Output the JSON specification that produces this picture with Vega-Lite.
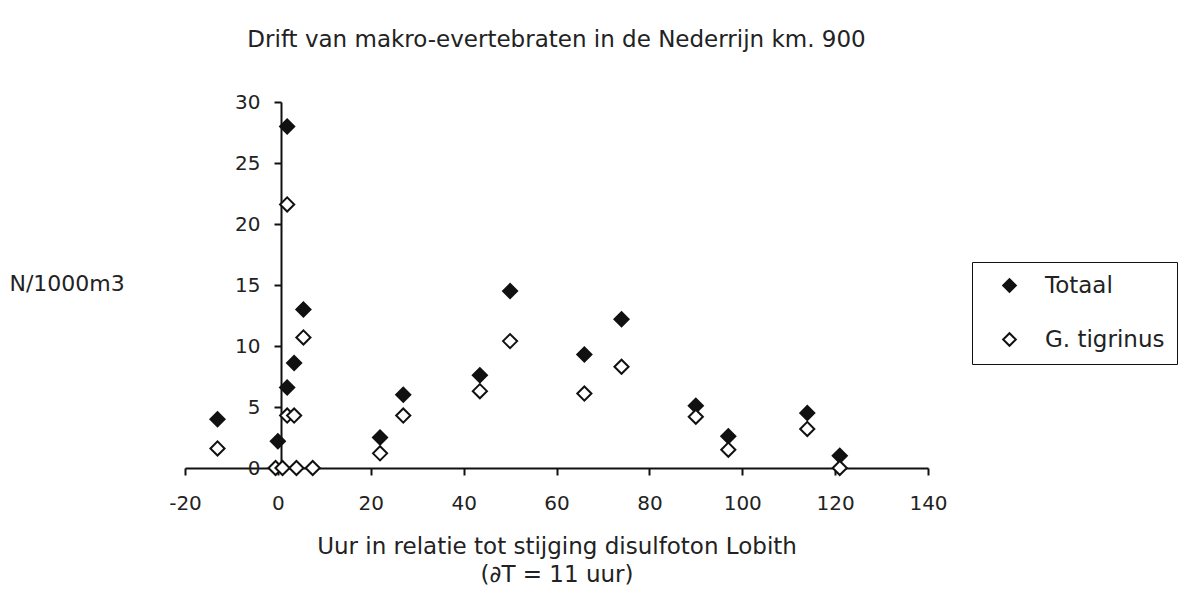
{
  "$schema": "https://vega.github.io/schema/vega-lite/v6.json",
  "autosize": "none",
  "width": 743,
  "height": 366,
  "padding": {"left": 185, "top": 102, "right": 264, "bottom": 129},
  "background": "white",
  "title": {
    "text": "Drift van makro-evertebraten in de Nederrijn km. 900",
    "font": "DejaVu Sans",
    "fontSize": 23,
    "fontWeight": "normal",
    "color": "#222",
    "anchor": "middle",
    "offset": 40
  },
  "data": {
    "values": [
      {"x": -13, "y": 4.0, "series": "Totaal"},
      {"x": -13, "y": 1.6, "series": "G. tigrinus"},
      {"x": 0, "y": 2.2, "series": "Totaal"},
      {"x": -0.5, "y": 0, "series": "G. tigrinus"},
      {"x": 1, "y": 0, "series": "G. tigrinus"},
      {"x": 4, "y": 0, "series": "G. tigrinus"},
      {"x": 7.5, "y": 0, "series": "G. tigrinus"},
      {"x": 2, "y": 28.0, "series": "Totaal"},
      {"x": 2, "y": 21.6, "series": "G. tigrinus"},
      {"x": 2, "y": 6.6, "series": "Totaal"},
      {"x": 2, "y": 4.3, "series": "G. tigrinus"},
      {"x": 3.5, "y": 8.6, "series": "Totaal"},
      {"x": 3.5, "y": 4.3, "series": "G. tigrinus"},
      {"x": 5.5, "y": 13.0, "series": "Totaal"},
      {"x": 5.5, "y": 10.7, "series": "G. tigrinus"},
      {"x": 22, "y": 2.5, "series": "Totaal"},
      {"x": 22, "y": 1.2, "series": "G. tigrinus"},
      {"x": 27, "y": 6.0, "series": "Totaal"},
      {"x": 27, "y": 4.3, "series": "G. tigrinus"},
      {"x": 43.5, "y": 7.6, "series": "Totaal"},
      {"x": 43.5, "y": 6.3, "series": "G. tigrinus"},
      {"x": 50, "y": 14.5, "series": "Totaal"},
      {"x": 50, "y": 10.4, "series": "G. tigrinus"},
      {"x": 66, "y": 9.3, "series": "Totaal"},
      {"x": 66, "y": 6.1, "series": "G. tigrinus"},
      {"x": 74, "y": 12.2, "series": "Totaal"},
      {"x": 74, "y": 8.3, "series": "G. tigrinus"},
      {"x": 90, "y": 5.1, "series": "Totaal"},
      {"x": 90, "y": 4.2, "series": "G. tigrinus"},
      {"x": 97, "y": 2.6, "series": "Totaal"},
      {"x": 97, "y": 1.5, "series": "G. tigrinus"},
      {"x": 114, "y": 4.5, "series": "Totaal"},
      {"x": 114, "y": 3.2, "series": "G. tigrinus"},
      {"x": 121, "y": 1.0, "series": "Totaal"},
      {"x": 121, "y": 0.0, "series": "G. tigrinus"}
    ]
  },
  "mark": {"type": "point", "shape": "diamond", "filled": true, "size": 200, "stroke": "#111", "strokeWidth": 2, "opacity": 1},
  "encoding": {
    "x": {
      "field": "x", "type": "quantitative",
      "scale": {"domain": [-20, 140], "nice": false, "zero": false},
      "axis": {
        "values": [-20, 0, 20, 40, 60, 80, 100, 120, 140],
        "labelExpr": "toString(datum.value)",
        "grid": false,
        "domainColor": "#111", "domainWidth": 2,
        "tickColor": "#111", "tickWidth": 2, "tickSize": 7,
        "labelFont": "DejaVu Sans", "labelFontSize": 20, "labelColor": "#222",
        "labelPadding": 18, "labelFlush": false, "labelOverlap": false,
        "title": ["Uur in relatie tot stijging disulfoton Lobith", "(∂T = 11 uur)"],
        "titleFont": "DejaVu Sans", "titleFontSize": 23, "titleFontWeight": "normal",
        "titleColor": "#222", "titlePadding": 22, "titleLineHeight": 28
      }
    },
    "y": {
      "field": "y", "type": "quantitative",
      "scale": {"domain": [0, 30], "nice": false},
      "axis": {
        "values": [0, 5, 10, 15, 20, 25, 30],
        "offset": -96,
        "grid": false,
        "domainColor": "#111", "domainWidth": 2,
        "tickColor": "#111", "tickWidth": 2, "tickSize": 7,
        "labelFont": "DejaVu Sans", "labelFontSize": 20, "labelColor": "#222",
        "labelPadding": 14, "labelFlush": false, "labelOverlap": false,
        "title": "N/1000m3",
        "titleAngle": 0, "titleAlign": "left", "titleBaseline": "middle",
        "titleX": -272, "titleY": 181,
        "titleFont": "DejaVu Sans", "titleFontSize": 22, "titleFontWeight": "normal", "titleColor": "#222"
      }
    },
    "fill": {
      "field": "series", "type": "nominal",
      "scale": {"domain": ["Totaal", "G. tigrinus"], "range": ["#111", "white"]},
      "legend": {
        "title": null,
        "orient": "none",
        "legendX": 787,
        "legendY": 160,
        "strokeColor": "#111",
        "padding": 12,
        "symbolOffset": 14,
        "symbolType": "diamond",
        "symbolSize": 160,
        "symbolStrokeColor": "#111",
        "symbolStrokeWidth": 2,
        "labelFont": "DejaVu Sans",
        "labelFontSize": 23,
        "labelColor": "#222",
        "labelOffset": 24,
        "rowPadding": 30,
        "labelLimit": 300
      }
    }
  },
  "config": {"view": {"stroke": null}}
}
